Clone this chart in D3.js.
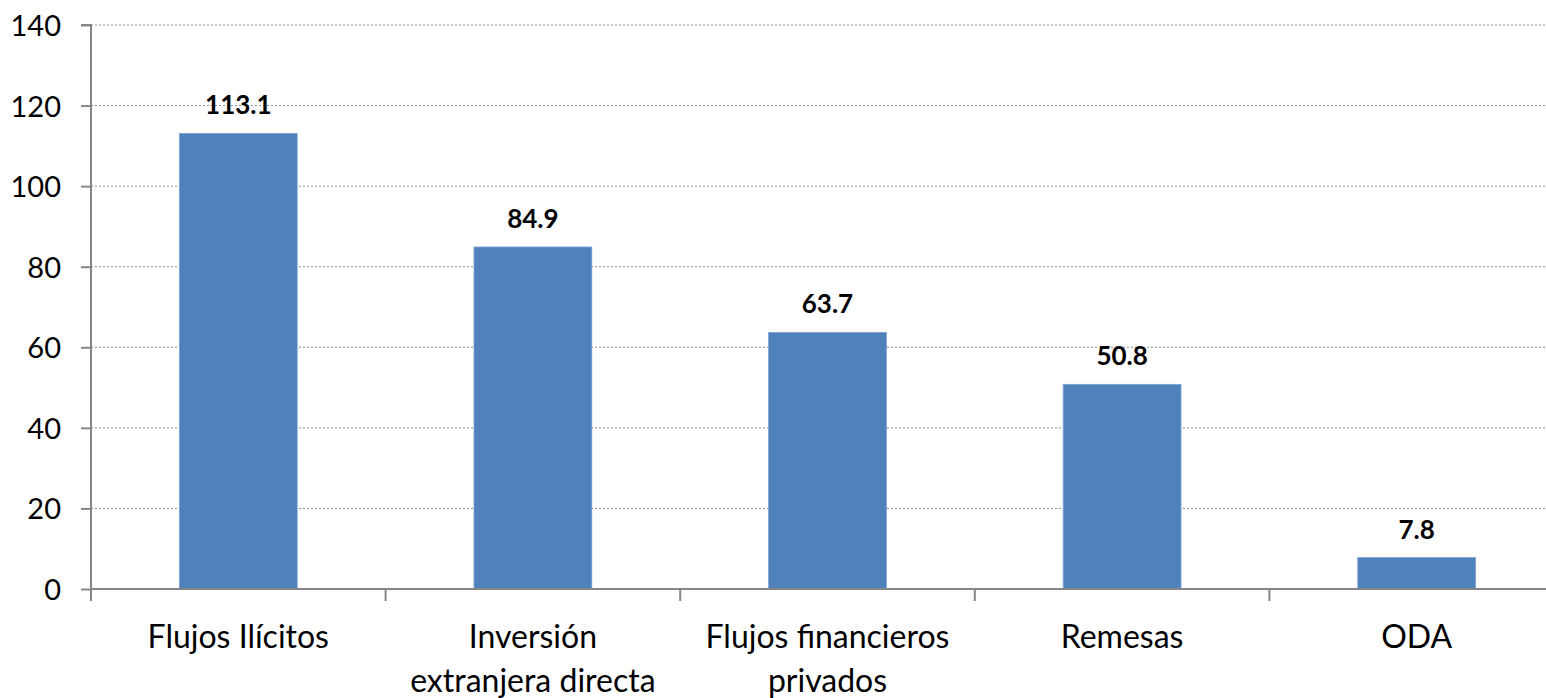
<!DOCTYPE html>
<html>
<head>
<meta charset="utf-8">
<script src="https://cdn.jsdelivr.net/npm/d3@7"></script>
<style>
html,body{margin:0;padding:0;background:#fff;}
svg{display:block;}
text{font-family:Lato,"Open Sans",sans-serif;fill:#000;}
</style>
</head>
<body>
<svg id="chart" width="1546" height="698"></svg>
<script>
const categories = ["Flujos Ilícitos", "Inversión\nextranjera directa", "Flujos financieros\nprivados", "Remesas", "ODA"];
const values = [113.1, 84.9, 63.7, 50.8, 7.8];
const yTicks = [0, 20, 40, 60, 80, 100, 120, 140];

(function() {
const svg = d3.select("#chart");
const mLeft = 91, mTop = 25, mBottom = 589, step = 294.6;
const x = d3.scaleBand().domain(categories).range([mLeft, mLeft + step * categories.length]).padding(0);
const y = d3.scaleLinear().domain([0, 140]).range([mBottom, mTop]);

// gridlines
svg.append("g").selectAll("line").data(yTicks.filter(d => d > 0)).join("line")
  .attr("x1", mLeft).attr("x2", 1546)
  .attr("y1", d => y(d)).attr("y2", d => y(d))
  .attr("stroke", "#8c8c8c").attr("stroke-width", 1).attr("stroke-dasharray", "2,2");

// bars
const bw = x.bandwidth() * 0.4;
svg.append("g").selectAll("rect").data(values).join("rect")
  .attr("x", (d, i) => x(categories[i]) + x.bandwidth() / 2 - bw / 2)
  .attr("width", bw)
  .attr("y", d => y(d))
  .attr("height", d => y(0) - y(d))
  .attr("fill", "#4F81BD")
  .attr("stroke", "#7ea3d2").attr("stroke-width", 0.8);

// value labels
svg.append("g").selectAll("text").data(values).join("text")
  .attr("x", (d, i) => x(categories[i]) + x.bandwidth() / 2)
  .attr("y", d => y(d) - 19)
  .attr("text-anchor", "middle")
  .attr("font-size", 26).attr("font-weight", "bold")
  .text(d => d.toFixed(1));

// y axis
const yAxis = d3.axisLeft(y).tickValues(yTicks).tickSize(10).tickPadding(20);
const gy = svg.append("g").attr("transform", `translate(${mLeft},0)`).call(yAxis);
gy.attr("font-family", null).attr("font-size", null);
gy.select(".domain").attr("stroke", "#868686").attr("stroke-width", 2).attr("d", `M-10,${mTop}H0V${mBottom}`);
gy.selectAll(".tick line").attr("stroke", "#868686").attr("stroke-width", 2);
gy.selectAll(".tick text").attr("font-size", 29).attr("fill", "#000").attr("dy", "0.36em");

// x axis
const xAxis = d3.axisBottom(x).tickSize(0).tickFormat("");
const gx = svg.append("g").attr("transform", `translate(0,${mBottom})`).call(xAxis);
gx.select(".domain").attr("stroke", "#868686").attr("stroke-width", 2).attr("d", `M${mLeft},0H1546`);
// boundary ticks
const bounds = d3.range(categories.length).map(i => mLeft + i * x.step());
svg.append("g").selectAll("line").data(bounds).join("line")
  .attr("x1", d => d).attr("x2", d => d)
  .attr("y1", mBottom).attr("y2", mBottom + 12)
  .attr("stroke", "#868686").attr("stroke-width", 2);

// category labels
const lab = svg.append("g").selectAll("text").data(categories).join("text")
  .attr("x", d => x(d) + x.bandwidth() / 2)
  .attr("y", 648)
  .attr("text-anchor", "middle")
  .attr("font-size", 32);
lab.each(function(d) {
  const t = d3.select(this);
  const cx = x(d) + x.bandwidth() / 2;
  d.split("\n").forEach((line, i) => {
    t.append("tspan").attr("x", cx).attr("dy", i === 0 ? 0 : 44).text(line);
  });
});
})();
</script>
</body>
</html>
